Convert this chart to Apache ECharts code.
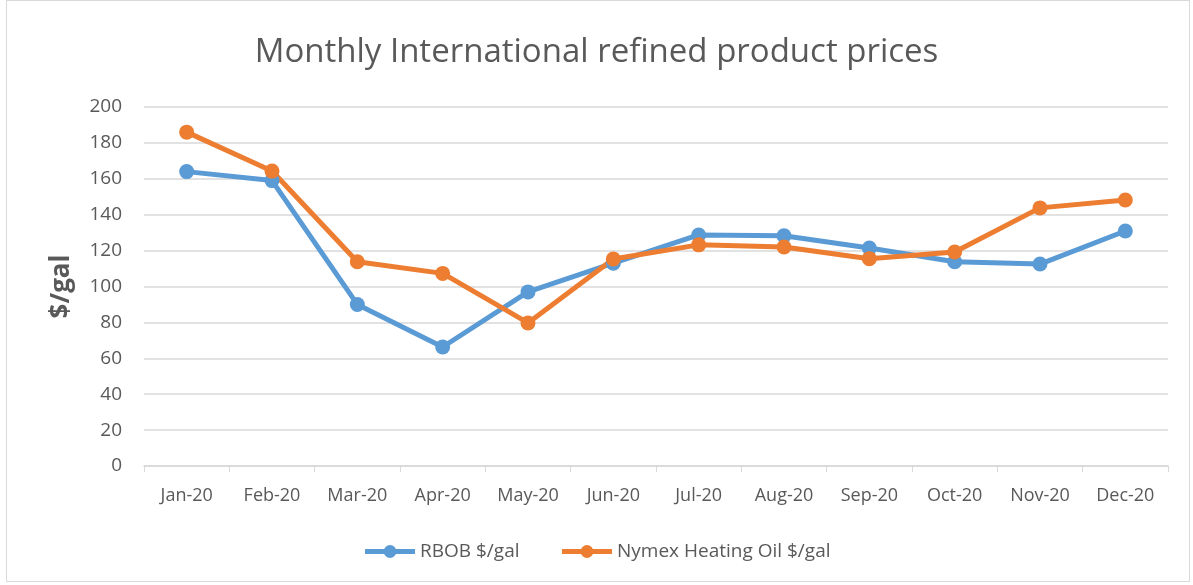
<!DOCTYPE html>
<html>
<head>
<meta charset="utf-8">
<script src="https://cdn.jsdelivr.net/npm/echarts@6/dist/echarts.min.js"></script>
<style>
  html, body { margin: 0; padding: 0; background: #fff; }
  #frame {
    position: absolute; left: 6px; top: 0; width: 1184px; height: 582px;
    border: 1px solid #d9d9d9; box-sizing: border-box;
  }
  #chart { width: 1193px; height: 585px; position: absolute; left: 0; top: 0; }
</style>
</head>
<body>
<div id="frame"></div>
<div id="chart"></div>
<script>
// data
const months = ['Jan-20', 'Feb-20', 'Mar-20', 'Apr-20', 'May-20', 'Jun-20',
                'Jul-20', 'Aug-20', 'Sep-20', 'Oct-20', 'Nov-20', 'Dec-20'];
const rbob = [164, 159, 90, 66.3, 97, 113, 128.7, 128.3, 121.4, 113.8, 112.5, 130.9];
const heatingOil = [186, 164.3, 113.8, 107.3, 79.7, 115.3, 123.2, 122, 115.5, 119.2, 143.8, 148.2];
const yTicks = { min: 0, max: 200, interval: 20 };

const textColor = '#595959';
const fontFam = '"Open Sans", "Noto Sans", sans-serif';

var chart = echarts.init(document.getElementById('chart'));
chart.setOption({
  animation: false,
  title: {
    text: 'Monthly International refined product prices',
    left: 'center',
    top: 31,
    textStyle: { fontFamily: fontFam, fontSize: 33, fontWeight: 'normal', color: textColor }
  },
  grid: { left: 144, right: 25, top: 107, bottom: 119 },
  legend: {
    bottom: 19,
    left: 'center',
    itemWidth: 50,
    itemHeight: 16,
    itemGap: 40,
    lineStyle: { width: 5 },
    textStyle: { fontFamily: fontFam, fontSize: 19, color: textColor },
    data: ['RBOB $/gal', 'Nymex Heating Oil $/gal']
  },
  xAxis: {
    type: 'category',
    data: months,
    boundaryGap: true,
    axisLine: { lineStyle: { color: '#d9d9d9', width: 1.5 } },
    axisTick: { show: true, length: 6, lineStyle: { color: '#d9d9d9' } },
    axisLabel: { fontFamily: fontFam, fontSize: 18, color: textColor, margin: 21 }
  },
  yAxis: {
    type: 'value',
    min: yTicks.min,
    max: yTicks.max,
    interval: yTicks.interval,
    name: '$/gal',
    nameLocation: 'middle',
    nameGap: 69,
    nameTextStyle: { fontFamily: fontFam, fontSize: 26, fontWeight: 'bold', color: textColor },
    axisLine: { show: false },
    axisTick: { show: false },
    axisLabel: { fontFamily: fontFam, fontSize: 19, color: textColor, margin: 22 },
    splitLine: { lineStyle: { color: '#d9d9d9', width: 1.5 } }
  },
  series: [
    {
      name: 'RBOB $/gal',
      type: 'line',
      data: rbob,
      color: '#5B9BD5',
      lineStyle: { width: 5 },
      symbol: 'circle',
      symbolSize: 15
    },
    {
      name: 'Nymex Heating Oil $/gal',
      type: 'line',
      data: heatingOil,
      color: '#ED7D31',
      lineStyle: { width: 5 },
      symbol: 'circle',
      symbolSize: 15
    }
  ]
});
</script>
</body>
</html>
